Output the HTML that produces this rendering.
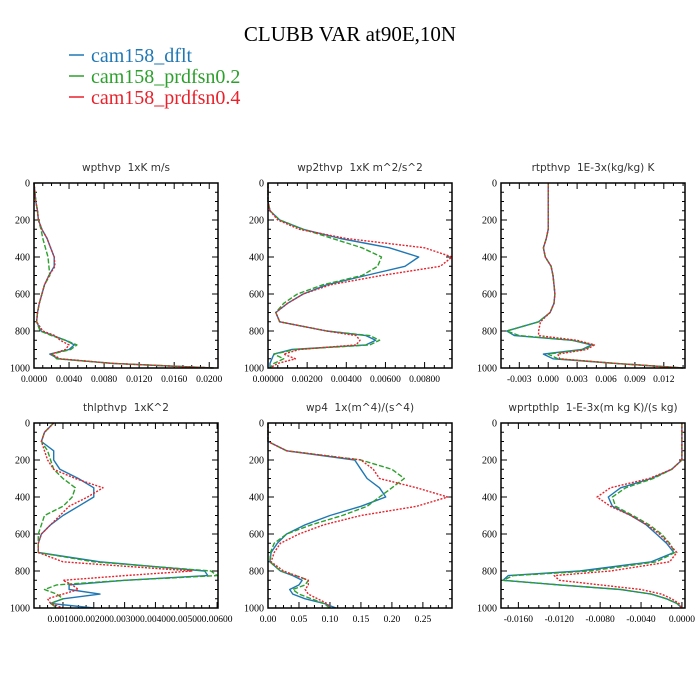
<!DOCTYPE html>
<html><head><meta charset="utf-8"><style>
html,body{margin:0;padding:0;background:#fff;width:700px;height:700px;overflow:hidden}
svg{display:block}
</style></head><body>
<svg id="chart" width="700" height="700" xmlns="http://www.w3.org/2000/svg">
<text x="350" y="41" text-anchor="middle" font-family="Liberation Serif, serif" font-size="21" fill="#000">CLUBB VAR at90E,10N</text>
<g>
<g><line x1="69" y1="55" x2="84" y2="55" stroke="#1f77b4" stroke-width="1.5"/><text x="91" y="62" font-family="Liberation Serif, serif" font-size="20" fill="#1f77b4">cam158_dflt</text></g>
<g><line x1="69" y1="76" x2="84" y2="76" stroke="#2ca02c" stroke-width="1.5"/><text x="91" y="83" font-family="Liberation Serif, serif" font-size="20" fill="#2ca02c">cam158_prdfsn0.2</text></g>
<g><line x1="69" y1="97" x2="84" y2="97" stroke="#e8212b" stroke-width="1.5"/><text x="91" y="104" font-family="Liberation Serif, serif" font-size="20" fill="#e8212b">cam158_prdfsn0.4</text></g>
</g>
</svg>
<script>
const levels=[0,50,100,150,200,250,300,350,400,450,500,550,600,650,700,750,800,825,850,875,900,925,950,975,1000];
const seriesNames=["cam158_dflt","cam158_prdfsn0.2","cam158_prdfsn0.4"];
const titles=["wpthvp  1xK m/s","wp2thvp  1xK m^2/s^2","rtpthvp  1E-3x(kg/kg) K","thlpthvp  1xK^2","wp4  1x(m^4)/(s^4)","wprtpthlp  1-E-3x(m kg K)/(s kg)"];
const yTicks=[0,200,400,600,800,1000];
const xTicks=[[0,0.004,0.008,0.012,0.016,0.02],[0,0.002,0.004,0.006,0.008],[-0.003,0,0.003,0.006,0.009,0.012],[0.001,0.002,0.003,0.004,0.005,0.006],[0,0.05,0.1,0.15,0.2,0.25],[-0.016,-0.012,-0.008,-0.004,0]];
const xTickLabels=[["0.0000","0.0040","0.0080","0.0120","0.0160","0.0200"],["0.00000","0.00200","0.00400","0.00600","0.00800"],["-0.003","0.000","0.003","0.006","0.009","0.012"],["0.00100","0.00200","0.00300","0.00400","0.00500","0.00600"],["0.00","0.05","0.10","0.15","0.20","0.25"],["-0.0160","-0.0120","-0.0080","-0.0040","0.0000"]];
const xMinor=[0.001,0.0005,0.001,0.00025,0.0125,0.001];
const xRange=[[0,0.021],[0,0.0094],[-0.0049,0.0142],[0.00006,0.00603],[0,0.297],[-0.0177,0.0003]];
const p1Blue=[0,0.0001,0.0002,0.0004,0.0005,0.0009,0.0015,0.0019,0.0023,0.0023,0.0017,0.0012,0.0009,0.0006,0.0004,0.0003,0.0008,0.0022,0.0036,0.0046,0.0040,0.0018,0.0028,0.009,0.0205];
const p1Green=[0,0.0001,0.0002,0.0004,0.0005,0.0008,0.0010,0.0013,0.0016,0.0017,0.0018,0.0012,0.0009,0.0006,0.0004,0.0003,0.0007,0.0020,0.0036,0.0049,0.0042,0.0020,0.0026,0.009,0.0205];
const p1Red=[0,0.0001,0.0002,0.0004,0.0005,0.0009,0.0015,0.0019,0.0023,0.0024,0.0017,0.0012,0.0009,0.0006,0.0004,0.0003,0.0010,0.0024,0.0030,0.0040,0.0036,0.0020,0.0030,0.009,0.0205];
const p2Blue=[0,0,0,0.0001,0.0006,0.0018,0.0037,0.0062,0.0077,0.0070,0.0050,0.0030,0.0018,0.0010,0.0004,0.0006,0.0030,0.0050,0.0055,0.0050,0.0012,0.0003,0.0002,0.0001,0.0001];
const p2Green=[0,0,0,0.0001,0.0006,0.0018,0.0033,0.0048,0.0058,0.0056,0.0048,0.0028,0.0015,0.0008,0.0004,0.0006,0.0030,0.0052,0.0057,0.0052,0.0014,0.0003,0.0008,0.0003,0.0001];
const p2Red=[0,0,0,0.0001,0.0005,0.0016,0.0040,0.0080,0.0094,0.0088,0.0058,0.0032,0.0018,0.0010,0.0004,0.0006,0.0030,0.0045,0.0047,0.0045,0.0016,0.0008,0.0014,0.0005,0.0001];
const p3Blue=[0,0,0,0,0,0,-0.0002,-0.0005,-0.0003,0.0003,0.0005,0.0006,0.0007,0.0006,0.0002,-0.0010,-0.0043,-0.0035,0.0025,0.0045,0.0035,-0.0005,0.0005,0.007,0.014];
const p3Green=[0,0,0,0,0,0,-0.0002,-0.0005,-0.0003,0.0003,0.0005,0.0006,0.0007,0.0006,0.0002,-0.0010,-0.0043,-0.0030,0.0025,0.0047,0.0037,0.0000,0.0010,0.007,0.014];
const p3Red=[0,0,0,0,0,0,-0.0002,-0.0005,-0.0003,0.0003,0.0005,0.0006,0.0007,0.0006,0.0002,-0.0008,-0.0010,-0.0010,0.0030,0.0048,0.0040,0.0010,0.0012,0.007,0.014];
const p4Blue=[0.0007,0.0004,0.0003,0.0007,0.0007,0.0009,0.0015,0.0020,0.0020,0.0015,0.0010,0.0006,0.0003,0.0002,0.0002,0.0022,0.0056,0.0057,0.0030,0.0012,0.0012,0.0022,0.0010,0.0006,0.0020];
const p4Green=[0.0007,0.0004,0.0003,0.0005,0.0006,0.0007,0.0010,0.0014,0.0013,0.0010,0.0004,0.0003,0.0002,0.0002,0.0002,0.0020,0.0058,0.0060,0.0030,0.0008,0.0004,0.0008,0.0010,0.0006,0.0008];
const p4Red=[0.0007,0.0004,0.0003,0.0004,0.0005,0.0007,0.0014,0.0023,0.0018,0.0012,0.0009,0.0006,0.0003,0.0002,0.0002,0.0010,0.0052,0.0030,0.0010,0.0013,0.0015,0.0010,0.0005,0.0006,0.0010];
const p5Blue=[0,0,0,0.03,0.14,0.15,0.16,0.18,0.19,0.15,0.10,0.06,0.03,0.015,0.005,0.003,0.02,0.04,0.055,0.05,0.035,0.04,0.06,0.09,0.11];
const p5Green=[0,0,0,0.03,0.15,0.20,0.22,0.20,0.18,0.16,0.12,0.07,0.03,0.01,0.004,0.003,0.02,0.045,0.065,0.06,0.04,0.05,0.07,0.09,0.10];
const p5Red=[0,0,0,0.03,0.15,0.17,0.18,0.24,0.29,0.24,0.15,0.09,0.05,0.02,0.01,0.005,0.025,0.045,0.065,0.065,0.06,0.065,0.08,0.095,0.10];
const p6Blue=[0,0,0,0,0,-0.001,-0.003,-0.006,-0.0072,-0.0068,-0.005,-0.0035,-0.0025,-0.0015,-0.0008,-0.003,-0.010,-0.017,-0.0175,-0.012,-0.006,-0.003,-0.0015,-0.0005,0];
const p6Green=[0,0,0,0,0,-0.001,-0.0028,-0.0055,-0.0068,-0.0065,-0.0048,-0.0032,-0.0020,-0.0012,-0.0007,-0.0025,-0.009,-0.0165,-0.0175,-0.012,-0.006,-0.003,-0.0015,-0.0005,0];
const p6Red=[0,0,0,0,0,-0.001,-0.0032,-0.0070,-0.0083,-0.0070,-0.0050,-0.0034,-0.0022,-0.0013,-0.0005,-0.0012,-0.007,-0.0125,-0.012,-0.008,-0.004,-0.002,-0.001,-0.0003,0];
const panelData=[[p1Blue,p1Green,p1Red],[p2Blue,p2Green,p2Red],[p3Blue,p3Green,p3Red],[p4Blue,p4Green,p4Red],[p5Blue,p5Green,p5Red],[p6Blue,p6Green,p6Red]];

const NS="http://www.w3.org/2000/svg";
const svg=document.getElementById('chart');
const colors=["#1f77b4","#2ca02c","#e8212b"];
const dashes=["","5,2","2,1.5"];
const boxX=[34,268,501], boxY=[183,423], W=184, H=185;
function mk(tag,attrs,parent){const e=document.createElementNS(NS,tag);for(const k in attrs)e.setAttribute(k,attrs[k]);parent.appendChild(e);return e;}
for(let p=0;p<6;p++){
  const x0=boxX[p%3], y0=boxY[Math.floor(p/3)];
  const [xmin,xmax]=xRange[p];
  const sx=v=>x0+(v-xmin)/(xmax-xmin)*W;
  const sy=v=>y0+v/1000*H;
  const g=mk('g',{},svg);
  
  
  const t=mk('text',{x:x0+W/2,y:y0-12,'text-anchor':'middle','font-family':'DejaVu Sans, sans-serif','font-size':'10.5',fill:'#333'},g);
  t.textContent=titles[p].replace(/  /g,'\u00a0\u00a0');
  
  
  // y ticks
  for(let v=0;v<=1000;v+=50){
    const y=sy(v), major=v%200===0, L=major?6:3;
    mk('line',{x1:x0,x2:x0+L,y1:y,y2:y,stroke:'#000','stroke-width':1},g);
    mk('line',{x1:x0+W,x2:x0+W-L,y1:y,y2:y,stroke:'#000','stroke-width':1},g);
  }
  yTicks.forEach(v=>{const tl=mk('text',{x:x0-4,y:sy(v)+3.5,'text-anchor':'end','font-family':'Liberation Serif, serif','font-size':'10'},g);tl.textContent=v;
    
    });
  // x ticks
  const mn=xMinor[p];
  const start=Math.ceil((xmin-1e-12)/mn);
  for(let k=start;k*mn<=xmax+1e-12;k++){
    const v=k*mn, x=sx(v);
    const major=xTicks[p].some(tv=>Math.abs(tv-v)<mn*0.01), L=major?6:3;
    mk('line',{x1:x,x2:x,y1:y0,y2:y0+L,stroke:'#000','stroke-width':1},g);
    mk('line',{x1:x,x2:x,y1:y0+H,y2:y0+H-L,stroke:'#000','stroke-width':1},g);
  }
  xTicks[p].forEach((v,i)=>{const tl=mk('text',{x:sx(v),y:y0+H+14,'text-anchor':'middle','font-family':'Liberation Serif, serif','font-size':'9.5'},g);tl.textContent=xTickLabels[p][i];
    
    });
  // series
  panelData[p].forEach((arr,s)=>{
    const pts=arr.map((v,i)=>sx(v).toFixed(1)+','+sy(levels[i]).toFixed(1)).join(' ');
    const pl=mk('polyline',{points:pts,fill:'none',stroke:colors[s],'stroke-width':1.4,'stroke-dasharray':dashes[s],'stroke-linejoin':'round'},g);
    
    
  });
  const r=mk('rect',{x:x0,y:y0,width:W,height:H,fill:'none',stroke:'#000','stroke-width':1.5},g);
  
  
}
</script>
</body></html>
